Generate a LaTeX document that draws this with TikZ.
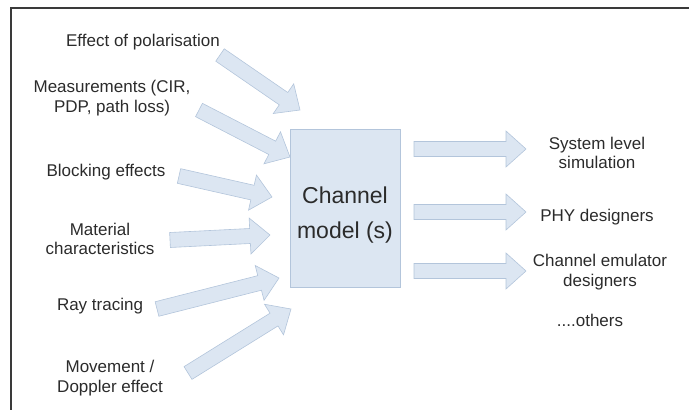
\documentclass[tikz,border=0pt]{standalone}
\usepackage{fontspec}
\setmainfont{Liberation Sans}
\usetikzlibrary{calc}
\definecolor{bleu}{HTML}{DCE6F2}
\definecolor{bleubord}{HTML}{B3C5DB}
\definecolor{texte}{HTML}{2B2B2B}
\definecolor{cadre}{HTML}{3A3A3A}
\tikzset{lbl/.style={
    text=texte,
    align=center,
    font=\fontsize{17}{19.5}\selectfont,
    inner sep=0}}
\tikzset{barrow/.style={
    fill=bleu,
    draw=bleubord,
    line width=0.6pt,
    line join=miter}}

% block arrow from tail #1 to tip #2
\newcommand{\shaftw}{7.5pt}
\newcommand{\headw}{18pt}
\newcommand{\headl}{20pt}
\newcommand{\blockarrow}[2]{
  \coordinate (hb) at ($(#2)!\headl!(#1)$);
  \draw[barrow] ($(#1)!\shaftw!90:(#2)$) -- ($(hb)!\shaftw!90:(#2)$)
    -- ($(hb)!\headw!90:(#2)$) -- (#2) -- ($(hb)!\headw!-90:(#2)$)
    -- ($(hb)!\shaftw!-90:(#2)$) -- ($(#1)!\shaftw!-90:(#2)$) -- cycle;}

\begin{document}
\begin{tikzpicture}[x=1pt, y=-1pt]
  \useasboundingbox (0,0) rectangle (689,410);

  % frame
  \draw[cadre, line width=1.4pt] (11,410) -- (11,8) -- (689,8);

  % inputs
  \node[lbl] (polar) at (143,42) {Effect of polarisation};
  \node[lbl] (meas) at (112,98) {Measurements (CIR,\\PDP, path loss)};
  \node[lbl] (block) at (106,172) {Blocking effects};
  \node[lbl] (mater) at (100,239) {Material\\characteristics};
  \node[lbl] (ray) at (100,306) {Ray tracing};
  \node[lbl] (move) at (110,378) {Movement /\\Doppler effect};

  % channel model
  \node[fill=bleu,
    draw=bleubord,
    line width=0.6pt,
    minimum width=110pt,
    minimum height=158pt] (model) at (345,208) {};
  \node[lbl,
    font=\fontsize{23}{35}\selectfont] (modeltxt) at ($(model)+(0,7)$) {Channel\\model (s)};

  % outputs
  \node[lbl] (syslev) at (597,153) {System level\\simulation};
  \node[lbl] (phy) at (597,217) {PHY designers};
  \node[lbl] (emul) at (600,272) {Channel emulator\\designers};
  \node[lbl] (others) at (590,320) {....others};

  % arrow ends
  \coordinate (polar-t) at (220,55);
  \coordinate (polar-h) at (300,110);
  \coordinate (meas-t) at (199,110);
  \coordinate (meas-h) at (290,157);
  \coordinate (block-t) at (179,176);
  \coordinate (block-h) at (272,197);
  \coordinate (mater-t) at (170,240);
  \coordinate (mater-h) at (270,235);
  \coordinate (ray-t) at (157,309);
  \coordinate (ray-h) at (279,278);
  \coordinate (move-t) at (188,373);
  \coordinate (move-h) at (291,309);
  \coordinate (syslev-t) at (414,149);
  \coordinate (syslev-h) at (526,149);
  \coordinate (phy-t) at (414,212);
  \coordinate (phy-h) at (526,212);
  \coordinate (emul-t) at (414,271);
  \coordinate (emul-h) at (526,271);

  \foreach \a in {polar,meas,block,mater,ray,move,syslev,phy,emul}
    {\blockarrow{\a-t}{\a-h}}
\end{tikzpicture}
\end{document}
